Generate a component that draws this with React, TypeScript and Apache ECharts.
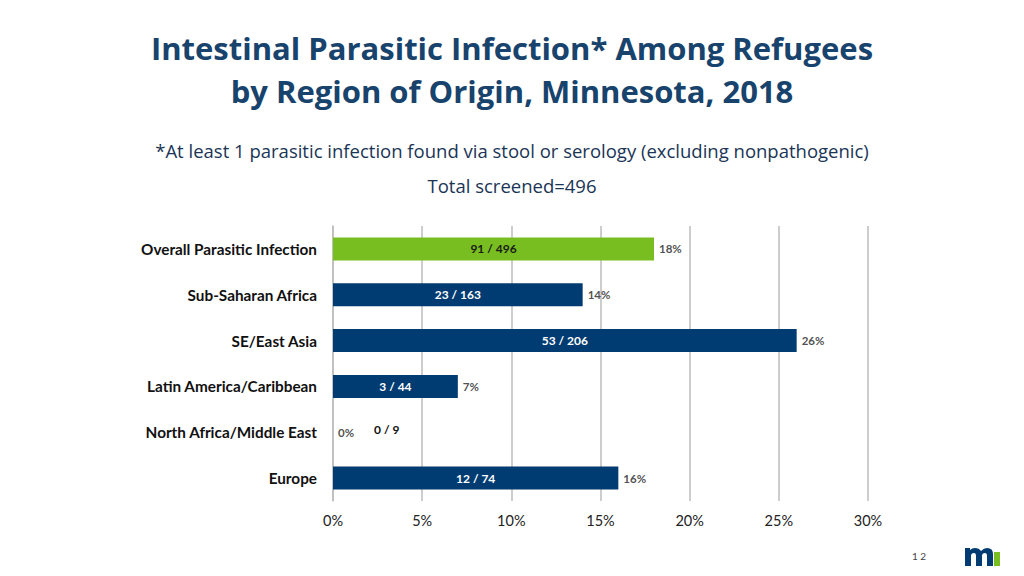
import React, { useEffect, useRef } from "react";
import * as echarts from "echarts";

const categories = [
  "Overall Parasitic Infection",
  "Sub-Saharan Africa",
  "SE/East Asia",
  "Latin America/Caribbean",
  "North Africa/Middle East",
  "Europe",
];
const percents = [18, 14, 26, 7, 0, 16];
const fractions = ["91 / 496", "23 / 163", "53 / 206", "3 / 44", "0 / 9", "12 / 74"];
const xTicks = [0, 5, 10, 15, 20, 25, 30];

const BLUE = "#003b71";
const GREEN = "#78be20";
const FONT = "Lato, 'Open Sans', sans-serif";
const TFONT = "'Open Sans', Lato, sans-serif";

const LOGO_M =
  "M0 0 L5 0 L5 2 Q7 0 10 0 Q14 0 16 3 Q19 0 22 0 Q28 0 28 6 L28 18 L22 18 L22 8 Q22 5 20 5 Q17 5 17 8 L17 18 L11 18 L11 8 Q11 5 9 5 Q6 5 6 8 L6 18 L0 18 Z";

let registered = false;

export default function App() {
  const ref = useRef<HTMLDivElement>(null);
  useEffect(() => {
    if (!ref.current) return;
    if (!registered) {
      echarts.graphic.registerShape("mnlogo", echarts.graphic.extendPath(LOGO_M, {}) as any);
      registered = true;
    }
    const chart = echarts.init(ref.current, null, { renderer: "svg" });
    chart.setOption({
      animation: false,
      backgroundColor: "#ffffff",
      textStyle: { fontFamily: FONT },
      title: [
        {
          text: "Intestinal Parasitic Infection* Among Refugees\nby Region of Origin, Minnesota, 2018",
          left: "center",
          top: 21,
          textStyle: {
            fontFamily: TFONT,
            fontSize: 31,
            fontWeight: "bold",
            color: "#17436d",
            lineHeight: 43,
          },
        },
        {
          text: "*At least 1 parasitic infection found via stool or serology (excluding nonpathogenic)",
          left: "center",
          top: 136,
          textStyle: { fontFamily: TFONT, fontSize: 18.5, fontWeight: "normal", color: "#1a3556" },
        },
        {
          text: "Total screened=496",
          left: "center",
          top: 171,
          textStyle: { fontFamily: TFONT, fontSize: 18.5, fontWeight: "normal", color: "#1a3556" },
        },
      ],
      grid: { left: 333, right: 156, top: 226, bottom: 75, containLabel: false },
      xAxis: {
        type: "value",
        min: 0,
        max: 30,
        interval: 5,
        axisLine: { show: false },
        axisTick: { show: false },
        splitLine: { show: true, lineStyle: { color: "#bdbdbd", width: 1.5 } },
        axisLabel: {
          formatter: (v: number) => (xTicks.includes(v) ? v + "%" : ""),
          fontFamily: FONT,
          fontSize: 14.5,
          color: "#222",
          margin: 12,
        },
      },
      yAxis: {
        type: "category",
        data: categories,
        inverse: true,
        axisLine: { show: true, lineStyle: { color: "#bdbdbd", width: 1.5 } },
        axisTick: { show: false },
        axisLabel: {
          fontFamily: FONT,
          fontSize: 15.3,
          fontWeight: "bold",
          color: "#111",
          margin: 16,
        },
      },
      series: [
        {
          type: "bar",
          barWidth: 23,
          data: percents.map((v, i) => ({
            value: v,
            itemStyle: { color: i === 0 ? GREEN : BLUE },
            label:
              v === 0
                ? { position: "right", offset: [36, -3], color: "#111" }
                : { position: "inside", color: i === 0 ? "#1a1a1a" : "#ffffff" },
          })),
          label: {
            show: true,
            formatter: (p: any) => fractions[p.dataIndex],
            fontFamily: FONT,
            fontSize: 12,
            fontWeight: "bold",
          },
        },
        {
          type: "scatter",
          symbolSize: 0,
          silent: true,
          data: percents.map((v) => v),
          label: {
            show: true,
            position: "right",
            distance: 5,
            formatter: (p: any) => percents[p.dataIndex] + "%",
            fontFamily: FONT,
            fontSize: 11.5,
            fontWeight: "bold",
            color: "#222",
          },
        },
      ],
      graphic: [
        {
          type: "text",
          left: 912,
          top: 551,
          style: { text: "1 2", fontFamily: FONT, fontSize: 10, fill: "#444" },
        },
        {
          type: "mnlogo",
          x: 965,
          y: 548,
          scaleX: 1,
          scaleY: 1,
          style: { fill: "#003b71" },
        },
        {
          type: "rect",
          shape: { x: 994, y: 552, width: 6, height: 14 },
          style: { fill: GREEN },
        },
      ],
    });
    return () => chart.dispose();
  }, []);
  return (
    <div
      ref={ref}
      style={{ position: "fixed", left: 0, top: 0, width: 1024, height: 576 }}
    />
  );
}
